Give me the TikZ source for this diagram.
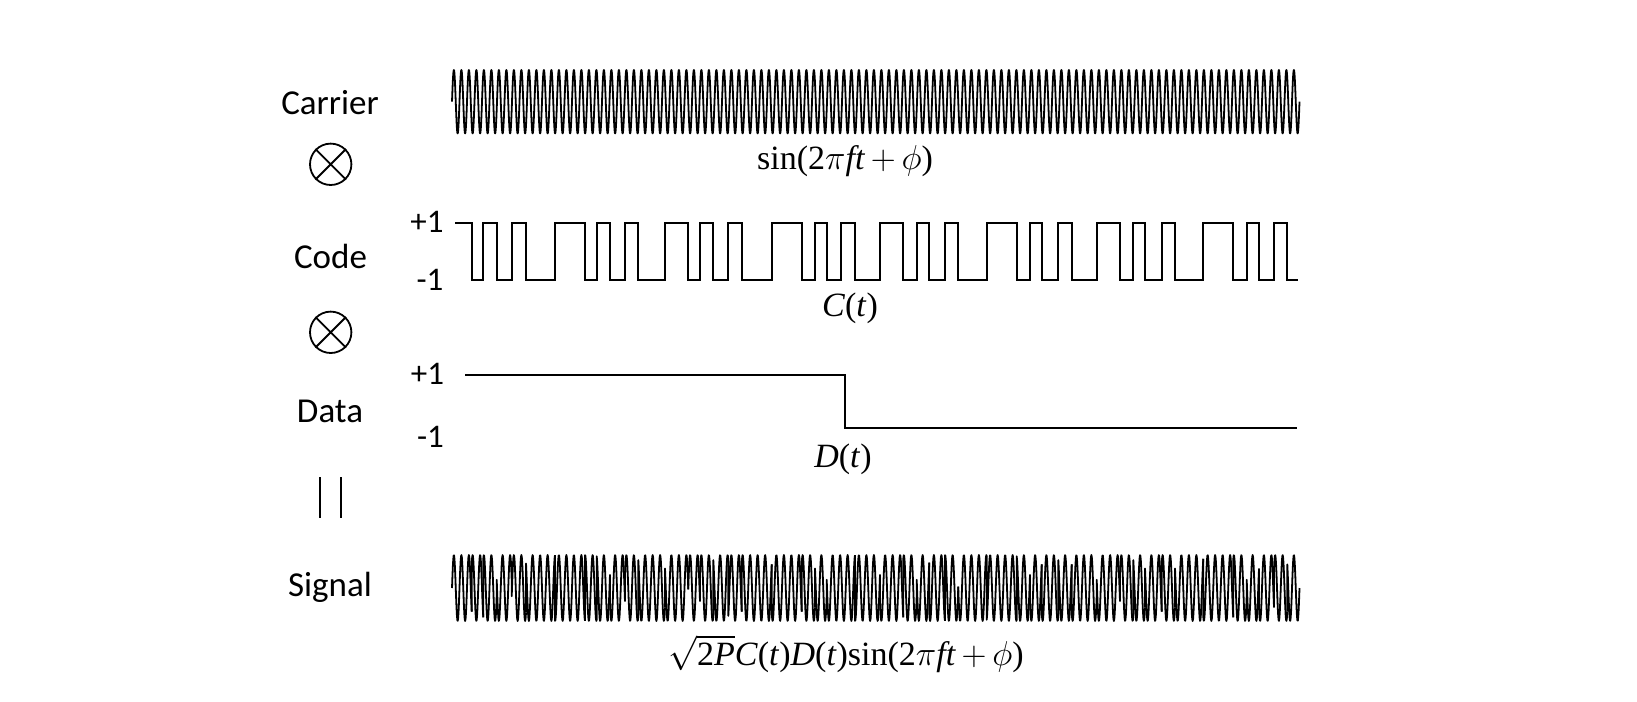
\documentclass[tikz,border=0pt]{standalone}
\usepackage{fontspec}
\setmainfont{Carlito}
\newfontfamily\tnr{Liberation Serif}
\begin{document}
\begin{tikzpicture}[x=0.5pt,y=-0.5pt,
  lbl/.style={font=\fontsize{17.5}{21}\selectfont, inner sep=0pt},
  lvl/.style={font=\fontsize{16.5}{20}\selectfont, inner sep=0pt},
  eq/.style={font=\fontsize{17}{20}\tnr, inner sep=0pt},
  mult/.style={circle, draw, minimum size=20.7pt, inner sep=0pt, line width=0.9pt},
  sq/.style={line width=1pt, line join=miter},
  wave/.style={line width=0.9pt, line join=round}]
\useasboundingbox (0,0) rectangle (1637,701);

% left labels
\node[lbl] (carrier) at (330,103) {Carrier};
\node[mult] (m1) at (330.7,164.3) {};
\draw[line width=0.9pt] (m1.45) -- (m1.225) (m1.135) -- (m1.315);
\node[lbl] (code) at (330.5,256) {Code};
\node[mult] (m2) at (330.7,332.3) {};
\draw[line width=0.9pt] (m2.45) -- (m2.225) (m2.135) -- (m2.315);
\node[lbl] (data) at (330,411) {Data};
\coordinate (e1a) at (320,477); \coordinate (e1b) at (320,518);
\coordinate (e2a) at (340.7,477); \coordinate (e2b) at (340.7,518);
\draw[line width=1pt] (e1a) -- (e1b) (e2a) -- (e2b);
\node[lbl] (signal) at (330,587) {Signal};

% level labels
\node[lvl] (cp1) at (427,222) {+1};
\node[lvl] (cm1) at (430,280) {-1};
\node[lvl] (dp1) at (427.5,373.5) {+1};
\node[lvl] (dm1) at (430.5,436.5) {-1};

% carrier
\draw[wave] (452,101.7) \foreach \k in {1,...,113} { sin ++(1.875,-31.7) cos ++(1.875,31.7) sin ++(1.875,31.7) cos ++(1.875,-31.7) };
\node[eq] (sinlbl) at (845,161) {sin(2$\pi$\textit{ft}$\,+\,\phi$)};

% code
\draw[sq] (455,222.7) \foreach \t [count=\i] in {471.7,483.3,496.7,511.7,526,555,585,596.7,610,625,638.3,665,688.3,700,713.3,728.3,741.7,771.7,801.7,815,826.7,841,855,880,903.3,916.7,929.3,945,958.3,986.7,1016.7,1030,1041.7,1058.3,1071.7,1096.7,1120,1133.3,1145,1161.7,1175,1203.3,1233.3,1246.7,1259,1274,1287.3} { -- (\t,{222.7+57.3*mod(\i+1,2)}) -- (\t,{222.7+57.3*mod(\i,2)}) } -- (1298,280);
\node[eq] (clbl) at (850,308) {\textit{C}(\textit{t})};

% data
\draw[sq] (465,374.5) -- (845,374.5) -- (845,428) -- (1296.7,428);
\node[eq] (dlbl) at (843,459) {\textit{D}(\textit{t})};

% signal
\foreach \a/\b [count=\i] in {452/471.7, 471.7/483.3, 483.3/496.7, 496.7/511.7, 511.7/526, 526/555, 555/585, 585/596.7, 596.7/610, 610/625, 625/638.3, 638.3/665, 665/688.3, 688.3/700, 700/713.3, 713.3/728.3, 728.3/741.7, 741.7/771.7, 771.7/801.7, 801.7/815, 815/826.7, 826.7/855, 855/880, 880/903.3, 903.3/916.7, 916.7/929.3, 929.3/945, 945/958.3, 958.3/986.7, 986.7/1016.7, 1016.7/1030, 1030/1041.7, 1041.7/1058.3, 1058.3/1071.7, 1071.7/1096.7, 1096.7/1120, 1120/1133.3, 1133.3/1145, 1145/1161.7, 1161.7/1175, 1175/1203.3, 1203.3/1233.3, 1233.3/1246.7, 1246.7/1259, 1259/1274, 1274/1287.3, 1287.3/1299.5} {
  \pgfmathsetmacro\s{1-2*mod(\i-1,2)}
  \pgfmathtruncatemacro\n{max(3,(\b-\a)*2.5)}
  \draw[wave] (\a,{588+33*\s*sin(360*((\a-452)/7.5-floor((\a-452)/7.5)))}) -- plot[domain=\a:\b, samples=\n] (\x,{588-33*\s*sin(360*((\x-452)/7.5-floor((\x-452)/7.5)))});
}
\node[eq] (slbl) at (846,654) {$\sqrt{\mbox{\tnr 2\textit{P}}}$\textit{C}(\textit{t})\textit{D}(\textit{t})sin(2$\pi$\textit{ft}$\,+\,\phi$)};
\end{tikzpicture}
\end{document}
